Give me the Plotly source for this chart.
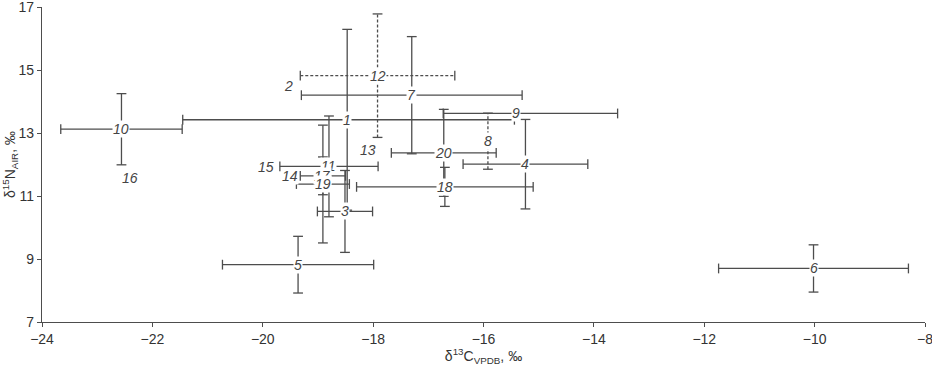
import plotly.graph_objects as go

# ---- data ----
labels = ["1", "2", "3", "4", "5", "6", "7", "8", "9", "10",
          "11", "12", "13", "14", "15", "16", "17", "18", "19", "20"]
d13C = [-18.47, -19.53, -18.51, -15.24, -19.36, -10.02, -17.30, -15.92, -15.42, -22.56,
        -18.80, -17.92, -18.10, -19.50, -19.95, -22.40, -18.91, -16.70, -18.91, -16.72]
d15N = [13.42, 14.48, 10.51, 12.01, 8.82, 8.70, 14.20, 12.74, 13.62, 13.12,
        11.94, 14.82, 12.45, 11.63, 11.91, 11.56, 11.64, 11.29, 11.38, 12.37]
c_err_minus = [2.98, 0, 0.50, 1.13, 1.37, 1.72, 2.00, 0, 1.31, 1.10,
               0.89, 1.40, 0, 0, 0, 0, 0.41, 1.60, 0.48, 0.95]
c_err_plus = [3.03, 0, 0.50, 1.13, 1.37, 1.72, 2.00, 0, 1.85, 1.10,
              0.89, 1.40, 0, 0, 0, 0, 0.41, 1.60, 0.48, 0.95]
n_err = [2.87, 0, 1.30, 1.42, 0.90, 0.75, 1.86, 0.89, 0, 1.13,
         1.60, 1.96, 0, 0, 0, 0, 0.60, 0.62, 1.87, 1.38]
dashed = ["12", "8"]

x_ticks = [-24, -22, -20, -18, -16, -14, -12, -10, -8]
y_ticks = [7, 9, 11, 13, 15, 17]

LINE = "#4d4d4d"
FONT = "Liberation Sans, Arial, sans-serif"

fig = go.Figure()
for i, lab in enumerate(labels):
    dash = "3px,2px" if lab in dashed else "solid"
    if c_err_minus[i] or c_err_plus[i]:
        fig.add_trace(go.Scatter(
            x=[d13C[i] - c_err_minus[i], d13C[i] + c_err_plus[i]],
            y=[d15N[i], d15N[i]],
            mode="lines+markers",
            line=dict(color=LINE, width=1.3, dash=dash),
            marker=dict(symbol="line-ns", size=7, line=dict(color=LINE, width=1.3)),
            hoverinfo="skip", showlegend=False))
    if n_err[i]:
        fig.add_trace(go.Scatter(
            x=[d13C[i], d13C[i]],
            y=[d15N[i] - n_err[i], d15N[i] + n_err[i]],
            mode="lines+markers",
            line=dict(color=LINE, width=1.3, dash=dash),
            marker=dict(symbol="line-ew", size=7, line=dict(color=LINE, width=1.3)),
            hoverinfo="skip", showlegend=False))

annotations = []
for i, lab in enumerate(labels):
    annotations.append(dict(
        x=d13C[i], y=d15N[i], xref="x", yref="y",
        text="<i>" + lab + "</i>", showarrow=False,
        font=dict(family=FONT, size=14, color="#444444"),
        bgcolor="white", borderpad=0))

fig.update_layout(
    width=932, height=366,
    margin=dict(l=42, r=7, t=7, b=44, autoexpand=False),
    plot_bgcolor="white", paper_bgcolor="white",
    font=dict(family=FONT, size=14, color="#333333"),
    annotations=annotations,
    xaxis=dict(range=[-24, -8], tickvals=x_ticks, showgrid=False, zeroline=False,
               showline=True, linecolor=LINE, linewidth=1.3,
               ticks="outside", ticklen=4, tickcolor=LINE,
               ticklabeloverflow="allow", automargin=False,
               title=dict(text="δ<sup>13</sup>C<sub>VPDB</sub>, ‰", standoff=3,
                          font=dict(size=14))),
    yaxis=dict(range=[7, 17], tickvals=y_ticks, showgrid=False, zeroline=False,
               showline=True, linecolor=LINE, linewidth=1.3,
               ticks="outside", ticklen=4, tickcolor=LINE,
               ticklabeloverflow="allow", automargin=False,
               title=dict(text="δ<sup>15</sup>N<sub>AIR</sub>, ‰", standoff=4,
                          font=dict(size=14))),
)

fig.write_html("out.html", config={"displayModeBar": False},
               post_script="document.body.style.margin='0';document.body.style.overflow='hidden';")
